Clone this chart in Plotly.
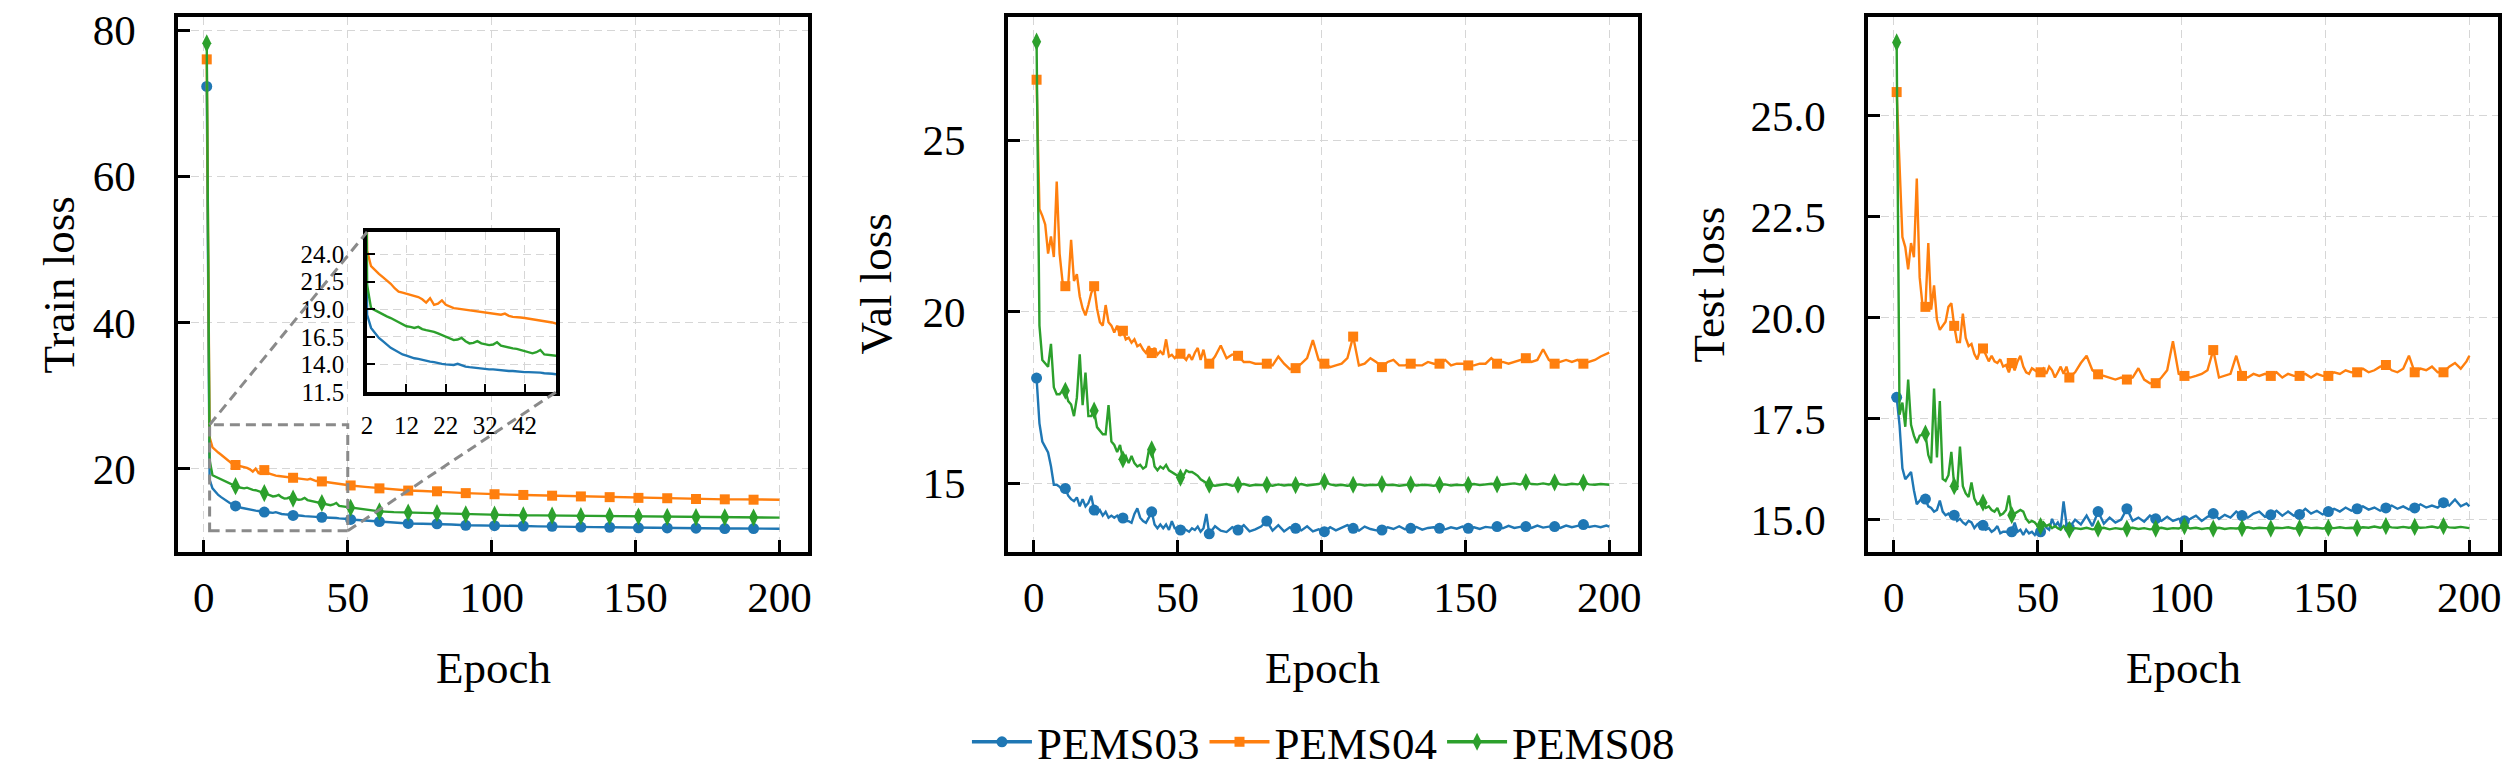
import plotly.graph_objects as go

# epochs used for sampling the curves
train_epochs = list(range(1, 51)) + list(range(51, 200, 5)) + [200]
vt_epochs = list(range(1, 61)) + list(range(61, 200, 2)) + [200]

# ---- train loss ----
train_pems03 = [72.3, 18.5, 17.3, 16.8, 16.4, 16.1, 15.8, 15.5, 15.3, 15.1,
                14.9, 14.8, 14.65, 14.55, 14.5, 14.4, 14.3, 14.25, 14.2, 14.1,
                14.05, 14.0, 14.0, 13.95, 14.05, 13.9, 13.8, 13.75, 13.7, 13.65,
                13.6, 13.6, 13.55, 13.55, 13.5, 13.5, 13.45, 13.4, 13.4, 13.35,
                13.35, 13.3, 13.3, 13.3, 13.3, 13.25, 13.2, 13.2, 13.15, 13.1,
                13.05, 12.9, 12.75, 12.6, 12.5, 12.45, 12.45, 12.35, 12.25, 12.25,
                12.2, 12.2, 12.15, 12.1, 12.1, 12.05, 12.0, 12.0, 11.98, 11.95,
                11.9, 11.9, 11.88, 11.86, 11.85, 11.83, 11.8, 11.8, 11.8, 11.78, 11.78]
train_pems04 = [76.0, 24.3, 22.9, 22.5, 22.2, 21.9, 21.6, 21.3, 20.9, 20.6,
                20.5, 20.4, 20.35, 20.2, 20.1, 19.9, 19.6, 20.0, 19.4, 19.5,
                19.8, 19.4, 19.25, 19.1, 19.05, 19.0, 18.95, 18.9, 18.85, 18.8,
                18.75, 18.7, 18.65, 18.55, 18.5, 18.5, 18.6, 18.4, 18.3, 18.3,
                18.25, 18.2, 18.15, 18.1, 18.05, 18.0, 17.9, 17.85, 17.8, 17.7,
                17.7, 17.5, 17.3, 17.1, 17.0, 16.95, 16.9, 16.75, 16.65, 16.55,
                16.5, 16.45, 16.4, 16.35, 16.3, 16.25, 16.2, 16.15, 16.1, 16.05,
                16.0, 16.0, 15.95, 15.9, 15.85, 15.85, 15.8, 15.8, 15.75, 15.75, 15.75]
train_pems08 = [78.2, 21.2, 19.1, 18.9, 18.7, 18.5, 18.35, 18.2, 18.0, 17.8,
                17.6, 17.45, 17.4, 17.3, 17.4, 17.2, 17.1, 17.05, 16.95, 16.8,
                16.65, 16.5, 16.4, 16.2, 16.25, 16.4, 16.1, 15.9, 15.95, 16.1,
                15.9, 15.8, 15.75, 15.8, 16.0, 15.7, 15.6, 15.5, 15.45, 15.4,
                15.3, 15.2, 15.1, 15.0, 15.1, 15.3, 14.9, 14.85, 14.75, 14.7,
                14.65, 14.4, 14.15, 14.05, 14.0, 13.95, 13.9, 13.8, 13.75, 13.7,
                13.7, 13.65, 13.6, 13.6, 13.58, 13.55, 13.5, 13.5, 13.5, 13.48,
                13.45, 13.42, 13.4, 13.38, 13.37, 13.36, 13.35, 13.33, 13.3, 13.3, 13.3]

# ---- val loss ----
val_pems03 = [18.07, 16.75, 16.22, 16.07, 15.9, 15.5, 14.96, 14.96, 14.9, 14.8,
              14.85, 14.64, 14.54, 14.48, 14.59, 14.33, 14.54, 14.33, 14.43, 14.64,
              14.22, 14.11, 14.22, 14.06, 14.17, 14.0, 14.06, 14.0, 14.06, 13.95,
              13.99, 13.9, 13.9, 13.85, 14.11, 14.27, 14.0, 13.9, 13.85, 14.0,
              14.17, 13.8, 13.69, 13.8, 13.69, 13.8, 13.64, 13.9, 13.69, 13.69,
              13.64, 13.69, 13.64, 13.59, 13.69, 13.64, 13.74, 13.59, 13.69, 14.11,
              13.53, 13.75, 13.62, 13.58, 13.72, 13.64, 13.78, 13.6, 13.66, 13.74,
              13.9, 13.62, 13.78, 13.6, 13.72, 13.69, 13.63, 13.75, 13.6, 13.66,
              13.59, 13.72, 13.63, 13.7, 13.78, 13.69, 13.62, 13.74, 13.67, 13.63,
              13.64, 13.72, 13.67, 13.75, 13.66, 13.69, 13.73, 13.65, 13.7, 13.72,
              13.69, 13.66, 13.72, 13.68, 13.74, 13.69, 13.72, 13.67, 13.73, 13.71,
              13.74, 13.69, 13.76, 13.7, 13.73, 13.74, 13.7, 13.77, 13.71, 13.74,
              13.74, 13.7, 13.77, 13.72, 13.76, 13.8, 13.73, 13.76, 13.72, 13.77, 13.74]
val_pems04 = [26.77, 23.0, 22.8, 22.55, 21.7, 22.2, 21.6, 23.8, 21.7, 20.9,
              20.75, 20.8, 22.1, 20.9, 21.1, 20.45, 20.1, 19.9, 20.2, 20.55,
              20.75, 20.1, 19.7, 19.6, 20.2, 19.7, 19.6, 19.4, 19.6, 19.3,
              19.45, 19.2, 19.25, 19.1, 19.2, 19.0, 19.05, 18.9, 18.8, 19.0,
              18.8, 18.95, 18.75, 18.85, 18.75, 19.2, 18.7, 18.75, 18.65, 18.75,
              18.78, 18.7, 18.6, 18.76, 18.6, 18.81, 18.95, 18.6, 18.9, 18.5,
              18.49, 18.7, 19.02, 18.65, 18.76, 18.72, 18.54, 18.54, 18.49, 18.49,
              18.49, 18.44, 18.7, 18.49, 18.33, 18.36, 18.49, 18.65, 19.18, 18.6,
              18.49, 18.39, 18.44, 18.49, 18.65, 19.28, 18.44, 18.49, 18.65, 18.54,
              18.39, 18.54, 18.6, 18.44, 18.44, 18.49, 18.44, 18.44, 18.54, 18.49,
              18.49, 18.6, 18.44, 18.49, 18.49, 18.44, 18.44, 18.49, 18.49, 18.65,
              18.49, 18.54, 18.49, 18.54, 18.6, 18.65, 18.54, 18.6, 18.91, 18.6,
              18.49, 18.54, 18.6, 18.54, 18.6, 18.49, 18.54, 18.6, 18.7, 18.76, 18.81]
val_pems08 = [27.88, 19.6, 18.6, 18.5, 18.4, 19.07, 17.8, 17.6, 17.6, 17.7,
              17.7, 17.4, 17.3, 16.96, 17.5, 18.76, 17.28, 18.23, 16.96, 16.96,
              17.12, 16.64, 16.54, 16.43, 16.43, 17.28, 16.22, 16.12, 15.91, 16.12,
              15.7, 15.8, 15.59, 15.8, 15.59, 15.49, 15.54, 15.43, 15.49, 15.96,
              15.99, 15.49, 15.38, 15.49, 15.43, 15.54, 15.38, 15.33, 15.28, 15.22,
              15.17, 15.22, 15.38, 15.33, 15.33, 15.28, 15.22, 15.12, 15.06, 15.01,
              14.96, 14.93, 14.96, 14.98, 14.93, 14.96, 14.98, 14.93, 14.96, 14.95,
              14.96, 14.93, 14.97, 14.94, 14.96, 14.95, 14.98, 14.94, 14.96, 14.98,
              15.05, 14.97, 14.94, 14.96, 14.93, 14.96, 14.97, 14.94, 14.96, 14.95,
              14.98, 14.95, 14.96, 14.93, 14.96, 14.97, 14.94, 14.96, 14.95, 14.93,
              14.96, 14.97, 14.94, 14.96, 14.95, 14.96, 14.98, 14.95, 14.96, 14.99,
              14.97, 14.96, 14.98, 15.0, 14.97, 15.04, 14.98, 14.97, 15.0, 14.97,
              15.03, 14.97, 14.96, 14.99, 14.97, 15.02, 14.97, 14.96, 14.98, 14.96, 14.96]

# ---- test loss ----
test_pems03 = [18.03, 17.35, 16.27, 16.0, 16.09, 16.18, 15.73, 15.38, 15.47, 15.56,
               15.51, 15.33, 15.29, 15.2, 15.24, 15.47, 15.2, 15.11, 15.15, 15.07,
               15.11, 14.97, 15.02, 14.93, 14.88, 14.97, 14.93, 14.79, 14.88, 14.93,
               14.86, 14.75, 14.79, 14.7, 14.75, 14.84, 14.66, 14.7, 14.7, 14.66,
               14.7, 14.93, 14.7, 14.75, 14.62, 14.75, 14.66, 14.7, 14.62, 14.75,
               14.7, 14.93, 14.8, 14.75, 15.02, 14.84, 14.93, 14.79, 15.45, 14.9,
               14.8, 15.0, 14.88, 15.1, 14.84, 15.2, 14.9, 15.05, 14.93, 15.0,
               15.27, 14.97, 15.05, 14.95, 15.1, 15.02, 14.97, 15.07, 14.97, 15.02,
               14.97, 15.02, 15.1, 14.97, 15.07, 15.15, 15.02, 15.12, 15.05, 15.2,
               15.1, 15.05, 15.15, 15.2, 15.07, 15.12, 15.22, 15.1, 15.2, 15.1,
               15.13, 15.27, 15.15, 15.22, 15.13, 15.2, 15.27, 15.2, 15.3, 15.22,
               15.27, 15.33, 15.25, 15.3, 15.22, 15.29, 15.35, 15.27, 15.33, 15.25,
               15.29, 15.38, 15.3, 15.35, 15.3, 15.42, 15.35, 15.5, 15.33, 15.4, 15.33]
test_pems04 = [25.59, 23.6, 22.0, 21.75, 21.2, 21.85, 21.5, 23.45, 21.0, 20.3,
               20.27, 21.85, 20.2, 20.8, 19.95, 19.7, 19.8, 19.9, 20.27, 20.36,
               19.8, 19.4, 19.4, 20.1, 19.5, 19.3, 19.35, 19.1, 18.97, 19.2,
               19.24, 19.06, 18.92, 19.06, 18.92, 18.88, 18.97, 18.79, 18.83, 18.65,
               18.88, 18.7, 18.92, 19.06, 18.79, 18.65, 18.61, 18.75, 18.7, 18.65,
               18.65, 18.74, 18.61, 18.79, 18.7, 18.52, 18.65, 18.79, 18.61, 18.79,
               18.52, 18.65, 18.88, 19.06, 18.7, 18.6, 18.56, 18.52, 18.47, 18.52,
               18.47, 18.52, 18.75, 18.47, 18.38, 18.38, 18.52, 18.7, 19.42, 18.61,
               18.56, 18.52, 18.56, 18.61, 18.7, 19.2, 18.52, 18.56, 18.61, 19.06,
               18.56, 18.52, 18.61, 18.56, 18.61, 18.56, 18.65, 18.52, 18.61, 18.56,
               18.56, 18.61, 18.52, 18.61, 18.56, 18.56, 18.65, 18.61, 18.7, 18.65,
               18.65, 18.74, 18.65, 18.7, 18.79, 18.83, 18.7, 18.65, 18.74, 19.06,
               18.65, 18.74, 18.7, 18.79, 18.65, 18.65, 18.79, 18.88, 18.74, 18.92, 19.06]
test_pems08 = [26.82, 17.6, 17.9, 17.3, 18.47, 17.35, 17.08, 16.9, 17.08, 17.1,
               17.13, 16.6, 16.4, 18.25, 16.54, 17.94, 16.01, 15.96, 16.1, 16.68,
               15.83, 15.74, 16.81, 15.83, 15.65, 15.56, 15.92, 15.52, 15.38, 15.42,
               15.42, 15.29, 15.33, 15.24, 15.2, 15.29, 15.11, 15.15, 15.24, 15.6,
               15.11, 15.15, 15.2, 15.24, 15.2, 15.02, 14.93, 14.97, 14.93, 14.84,
               14.84, 14.93, 14.84, 14.88, 14.79, 14.84, 14.79, 14.75, 14.84, 14.75,
               14.75, 14.79, 14.77, 14.8, 14.76, 14.78, 14.8, 14.76, 14.79, 14.77,
               14.78, 14.8, 14.77, 14.79, 14.76, 14.78, 14.8, 14.77, 14.79, 14.78,
               14.84, 14.78, 14.8, 14.77, 14.79, 14.78, 14.8, 14.77, 14.79, 14.78,
               14.79, 14.81, 14.78, 14.8, 14.79, 14.78, 14.8, 14.79, 14.81, 14.78,
               14.79, 14.81, 14.79, 14.8, 14.78, 14.8, 14.79, 14.81, 14.79, 14.8,
               14.79, 14.81, 14.8, 14.83, 14.8, 14.84, 14.81, 14.8, 14.82, 14.8,
               14.82, 14.8, 14.81, 14.83, 14.8, 14.84, 14.81, 14.8, 14.82, 14.8, 14.79]

names = ["PEMS03", "PEMS04", "PEMS08"]
colors = ["#1f77b4", "#ff7f0e", "#2ca02c"]
symbols = ["circle", "square", "diamond-tall"]
msizes = [11, 10, 13]

FONT = "Liberation Serif"
FS = 45      # labels and legend
TFS = 43     # tick labels

# panel geometry (paper fractions)
doms = [[0.0675, 0.3175], [0.3968, 0.6468], [0.7381, 0.9881]]
ydom = [0.2908, 0.9883]
inset_x = [0.1425, 0.2175]
inset_y = [0.4994, 0.708]

xr = [-8.95, 209.95]
yranges = [[8.6, 81.8], [13.0, 28.6], [14.2, 27.45]]
ytick_sets = [[20, 40, 60, 80], [15, 20, 25], [15.0, 17.5, 20.0, 22.5, 25.0]]
ylabels = ["Train loss", "Val loss", "Test loss"]

panels = [
    (train_epochs, [train_pems03, train_pems04, train_pems08]),
    (vt_epochs, [val_pems03, val_pems04, val_pems08]),
    (vt_epochs, [test_pems03, test_pems04, test_pems08]),
]

fig = go.Figure()

for p, (ep, series) in enumerate(panels):
    xa = "x" if p == 0 else f"x{p + 1}"
    ya = "y" if p == 0 else f"y{p + 1}"
    for i, vals in enumerate(series):
        fig.add_trace(go.Scatter(x=ep, y=vals, mode="lines", xaxis=xa, yaxis=ya,
                                 line=dict(color=colors[i], width=2.4),
                                 showlegend=False, hoverinfo="skip"))
        mx = [e for e in ep if (e - 1) % 10 == 0 and e < 200]
        my = [v for e, v in zip(ep, vals) if (e - 1) % 10 == 0 and e < 200]
        fig.add_trace(go.Scatter(x=mx, y=my, mode="markers", xaxis=xa, yaxis=ya,
                                 marker=dict(color=colors[i], symbol=symbols[i],
                                             size=msizes[i], line=dict(width=0)),
                                 showlegend=False, hoverinfo="skip"))

# inset (train loss, epochs 2-50)
for i, vals in enumerate(panels[0][1]):
    fig.add_trace(go.Scatter(x=train_epochs, y=vals, mode="lines", xaxis="x4", yaxis="y4",
                             line=dict(color=colors[i], width=2.4),
                             showlegend=False, hoverinfo="skip"))

# legend entries
for i in range(3):
    fig.add_trace(go.Scatter(x=[None], y=[None], mode="lines+markers", name=names[i],
                             line=dict(color=colors[i], width=3.5),
                             marker=dict(color=colors[i], symbol=symbols[i], size=msizes[i])))

axis_common = dict(showline=True, linecolor="black", linewidth=3.5, mirror=True,
                   ticks="inside", ticklen=12, tickwidth=2.5, tickcolor="black",
                   showgrid=True, gridcolor="#d6d6d6", gridwidth=1.3, griddash="8px,5px",
                   zeroline=False, ticklabeloverflow="allow", automargin=False,
                   tickfont=dict(family=FONT, size=TFS, color="black"))

layout = dict(width=2520, height=767, margin=dict(l=0, r=0, t=0, b=0, autoexpand=False),
              paper_bgcolor="white", plot_bgcolor="white",
              font=dict(family=FONT, size=FS, color="black"),
              legend=dict(orientation="h", x=0.522, y=0.043, xanchor="center", yanchor="middle",
                          font=dict(family=FONT, size=FS), itemwidth=60, bgcolor="rgba(0,0,0,0)"))

for p in range(3):
    sx = "" if p == 0 else str(p + 1)
    layout["xaxis" + sx] = dict(axis_common, domain=doms[p], range=xr, tickvals=[0, 50, 100, 150, 200],
                                anchor="y" + sx, ticklabelstandoff=5)
    layout["yaxis" + sx] = dict(axis_common, domain=ydom, range=yranges[p], tickvals=ytick_sets[p],
                                anchor="x" + sx, ticklabelstandoff=30,
                                tickformat=".1f" if p == 2 else "d")

inset_common = dict(axis_common, ticklen=8, tickwidth=2, tickfont=dict(family=FONT, size=25, color="black"))
layout["xaxis4"] = dict(inset_common, domain=inset_x, range=[2, 50], tickvals=[2, 12, 22, 32, 42],
                        anchor="y4", ticklabelstandoff=8)
layout["yaxis4"] = dict(inset_common, domain=inset_y, range=[11.5, 26.0],
                        tickvals=[11.5, 14.0, 16.5, 19.0, 21.5, 24.0], tickformat=".1f",
                        anchor="x4", ticklabelstandoff=14)

fig.update_layout(**layout)


def to_paper_x(v):
    return doms[0][0] + (v - xr[0]) / (xr[1] - xr[0]) * (doms[0][1] - doms[0][0])


def to_paper_y(v):
    r = yranges[0]
    return ydom[0] + (v - r[0]) / (r[1] - r[0]) * (ydom[1] - ydom[0])


def to_data_x(px):
    return xr[0] + (px - doms[0][0]) / (doms[0][1] - doms[0][0]) * (xr[1] - xr[0])


def to_data_y(py):
    r = yranges[0]
    return r[0] + (py - ydom[0]) / (ydom[1] - ydom[0]) * (r[1] - r[0])


# white patch to hide main grid behind the inset
fig.add_shape(type="rect", xref="x", yref="y", layer="between",
              x0=to_data_x(inset_x[0]), x1=to_data_x(inset_x[1]),
              y0=to_data_y(inset_y[0]), y1=to_data_y(inset_y[1]),
              fillcolor="white", line=dict(width=0))

# zoom rectangle and connectors
dash_style = dict(color="#8a8a8a", width=3, dash="10px,6px")
fig.add_shape(type="rect", xref="x", yref="y", x0=2, x1=50, y0=11.5, y1=26.0, line=dash_style)
fig.add_shape(type="line", xref="paper", yref="paper",
              x0=to_paper_x(2), y0=to_paper_y(26.0), x1=inset_x[0], y1=inset_y[1], line=dash_style)
fig.add_shape(type="line", xref="paper", yref="paper",
              x0=to_paper_x(50), y0=to_paper_y(11.5), x1=inset_x[1], y1=inset_y[0], line=dash_style)

# axis titles
ylab_x = [0.0206, 0.3445, 0.675]
for p in range(3):
    fig.add_annotation(text=ylabels[p], xref="paper", yref="paper", x=ylab_x[p],
                       y=(ydom[0] + ydom[1]) / 2, textangle=-90, showarrow=False,
                       font=dict(family=FONT, size=FS), xanchor="center", yanchor="middle")
    fig.add_annotation(text="Epoch", xref="paper", yref="paper", x=sum(doms[p]) / 2, y=0.14,
                       showarrow=False, font=dict(family=FONT, size=FS),
                       xanchor="center", yanchor="middle")

fig.write_html("out.html")
